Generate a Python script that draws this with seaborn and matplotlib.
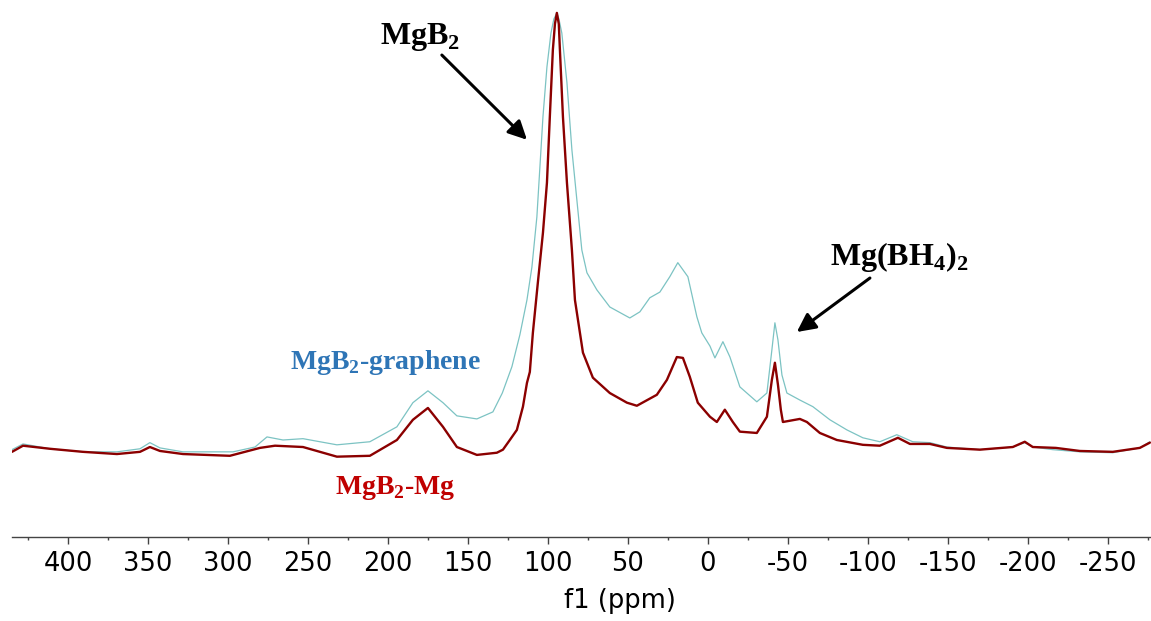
"""11B MAS NMR spectra of MgB2-graphene and MgB2-Mg."""

import matplotlib

matplotlib.use("Agg")

import matplotlib.pyplot as plt
import pandas as pd
import seaborn as sns

# chemical shift (ppm) and intensity (peak = 100)
ppm_graphene = [
    435, 428.1, 411.3, 390.6, 369.4, 355, 348.8, 342.5, 328.1, 296.9,
    283.1, 275.6, 265.6, 253.1, 231.9, 211.3, 194.4, 184.4, 175, 165.6,
    156.9, 144.4, 134.4, 128.5, 122.5, 117.5, 113.1, 110, 106.9, 105,
    103.1, 100.6, 98.1, 96.3, 94.4, 93.1, 91.3, 88.1, 85, 81.9, 78.8, 75.6,
    69.4, 61.3, 48.8, 42.5, 36.3, 30, 23.8, 18.8, 12.5, 6.9,
    3.8, -1.3, -4.4, -9.4, -13.8, -20, -30.6, -36.9, -40, -41.9,
    -43.8, -46.3, -49.4, -57.5, -65.6, -76.3, -86.9, -96.9, -107.5, -118.1,
    -128.1, -138.8, -149.4, -170, -190.6, -198.1, -203.1, -215.6, -232.5, -253.1,
    -270, -276.3,
]
int_graphene = [
    0.5, 1.8, 0.7, 0.0, 0.0, 0.7, 2.1, 0.9, 0.0, 0.0,
    1.1, 3.4, 2.7, 3.0, 1.6, 2.3, 5.7, 11.2, 13.9, 11.2,
    8.2, 7.5, 9.1, 13.4, 19.4, 26.7, 34.6, 42.1, 53.5, 64.9,
    76.3, 87.7, 95.4, 98.6, 100.0, 98.6, 95.4, 84.1, 68.8, 57.4, 46.0, 40.8,
    36.9, 33.0, 30.5, 31.9, 35.1, 36.4, 39.9, 43.1, 39.9, 30.8,
    27.1, 24.1, 21.4, 25.1, 21.6, 14.8, 11.4, 13.4, 23.2, 29.4,
    25.5, 17.5, 13.4, 11.8, 10.3, 7.3, 5.0, 3.2, 2.3, 3.9,
    2.3, 2.1, 1.1, 0.5, 1.1, 2.1, 1.1, 0.5, 0.0, -0.2,
    0.9, 2.3,
]

ppm_mg = [
    435, 428.1, 411.3, 390.6, 369.4, 355, 348.8, 342.5, 328.1, 298.8,
    280, 270.6, 253.1, 231.9, 211.3, 194.4, 184.4, 175, 165.6, 156.9,
    144.4, 131.9, 128.1, 123.8, 119.4, 115.6, 113.1, 111.3, 109.4, 106.3,
    103.1, 100.6, 98.8, 96.9, 95.6, 94.4, 93.2, 92.5, 90.6, 88.1, 85, 83.1,
    78.1, 71.9, 61.3, 50.6, 44.4, 31.9, 25.6, 19.4, 15.6, 11.3,
    6.3, -1.3, -5.6, -10.6, -15.6, -20, -30.6, -36.9, -40, -41.9,
    -43.8, -45.6, -46.9, -57.5, -61.9, -70, -80.6, -96.9, -107.5, -118.8,
    -126.3, -138.8, -149.4, -170, -190.6, -198.1, -203.1, -217.5, -232.5, -253.1,
    -270, -276.3,
]
int_mg = [
    0.0, 1.4, 0.7, 0.0, -0.5, 0.0, 1.1, 0.2, -0.5, -0.9,
    0.9, 1.4, 1.1, -1.1, -0.9, 2.7, 7.3, 10.0, 5.7, 1.1,
    -0.7, -0.2, 0.5, 2.7, 5.0, 10.3, 15.7, 18.2, 27.1, 38.5,
    49.9, 61.3, 76.3, 91.6, 97.5, 100.0, 97.5, 91.6, 76.3, 61.3, 46.0, 34.6,
    22.6, 16.9, 13.4, 11.2, 10.5, 13.0, 16.4, 21.6, 21.4, 17.1,
    11.2, 8.0, 6.8, 9.6, 6.8, 4.6, 4.3, 8.0, 16.4, 20.3,
    15.3, 9.6, 6.8, 7.5, 6.8, 4.3, 2.7, 1.6, 1.4, 3.2,
    1.8, 1.8, 0.9, 0.5, 1.1, 2.3, 1.1, 0.9, 0.2, 0.0,
    0.9, 2.1,
]

xticks = list(range(400, -251, -50))

sns.set_style("ticks")
plt.rcParams["font.family"] = ["DejaVu Sans"]
plt.rcParams["axes.unicode_minus"] = False
plt.rcParams["mathtext.fontset"] = "custom"
plt.rcParams["mathtext.rm"] = "Liberation Serif:bold"
plt.rcParams["mathtext.bf"] = "Liberation Serif:bold"

graphene = pd.DataFrame({"ppm": ppm_graphene, "intensity": int_graphene})
mg = pd.DataFrame({"ppm": ppm_mg, "intensity": int_mg})

fig = plt.figure(figsize=(11.51, 6.21), dpi=100)
ax = fig.add_axes([12 / 1151, 84 / 621, 1 - 12 / 1151, 532 / 621])

sns.lineplot(data=graphene, x="ppm", y="intensity", ax=ax,
             color="#7cc3c3", linewidth=0.9, sort=False)
sns.lineplot(data=mg, x="ppm", y="intensity", ax=ax,
             color="#8b0000", linewidth=1.7, sort=False)

ax.set_xlim(435, -277)
ax.set_ylim(-19.4, 101.8)
ax.set_yticks([])
ax.set_ylabel("")
ax.set_xticks(xticks)
ax.set_xticklabels([str(t) for t in xticks])
ax.xaxis.set_minor_locator(matplotlib.ticker.MultipleLocator(25))
ax.tick_params(axis="x", which="major", length=5, width=1, color="#444444",
               labelsize=18.5, labelcolor="black", pad=5)
ax.tick_params(axis="x", which="minor", length=2.5, width=1, color="#444444")
sns.despine(ax=ax, left=True)
ax.spines["bottom"].set_color("#444444")
ax.spines["bottom"].set_linewidth(1)

ax.set_xlabel("f1 (ppm)", fontsize=18.5, color="black")
ax.xaxis.set_label_coords(0.534, -0.095)

serif = dict(family="Liberation Serif", fontweight="bold", ha="center", va="center")
ax.text(180, 94.5, r"MgB$_2$", fontsize=23, color="black", **serif)
ax.text(-119.4, 44.4, r"Mg(BH$_4$)$_2$", fontsize=23, color="black", **serif)
ax.text(201.3, 20.3, r"MgB$_2$-graphene", fontsize=20, color="#2e75b6", **serif)
ax.text(195.6, -8.2, r"MgB$_2$-Mg", fontsize=20, color="#c00000", **serif)

arrow = dict(arrowstyle="-|>", lw=2.2, color="black", mutation_scale=28,
             shrinkA=0, shrinkB=0)
ax.annotate("", xy=(113.1, 71.1), xytext=(166.3, 90.4), arrowprops=arrow)
ax.annotate("", xy=(-55.6, 27.3), xytext=(-101.3, 39.6), arrowprops=arrow)

fig.savefig("out.png", dpi=100)
plt.close(fig)
